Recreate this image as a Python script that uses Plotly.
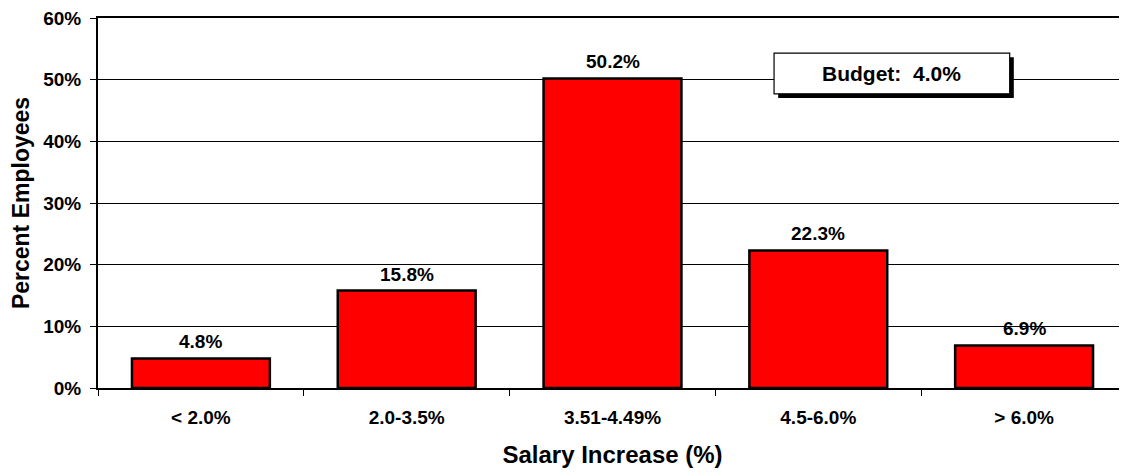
import plotly.graph_objects as go

categories = ["< 2.0%", "2.0-3.5%", "3.51-4.49%", "4.5-6.0%", "> 6.0%"]
values = [4.8, 15.8, 50.2, 22.3, 6.9]
labels = ["4.8%", "15.8%", "50.2%", "22.3%", "6.9%"]
y_ticks = [0, 10, 20, 30, 40, 50, 60]
y_ticklabels = ["0%", "10%", "20%", "30%", "40%", "50%", "60%"]
budget_text = "Budget:  4.0%"

FONT = "Liberation Sans, Arial, sans-serif"

fig = go.Figure()
fig.add_trace(go.Bar(
    x=categories, y=values,
    marker=dict(color="#FF0000", line=dict(color="black", width=2.5)),
    width=0.67,
    hoverinfo="skip",
))

for c, v, t in zip(categories, values, labels):
    fig.add_annotation(x=c, y=v, text="<b>%s</b>" % t, showarrow=False,
                       yanchor="bottom", yshift=4,
                       font=dict(family=FONT, size=19, color="black"))

# Budget box with shadow
fig.add_shape(type="rect", xref="paper", yref="paper",
              x0=0.661, x1=0.890, y0=0.784, y1=0.894,
              fillcolor="black", line=dict(width=0), layer="above")
fig.add_shape(type="rect", xref="paper", yref="paper",
              x0=0.657, x1=0.886, y0=0.795, y1=0.905,
              fillcolor="white", line=dict(color="black", width=1.2), layer="above")
fig.add_annotation(xref="paper", yref="paper", x=0.7715, y=0.85,
                   xanchor="center", yanchor="middle",
                   text="<b>%s</b>" % budget_text.replace("  ", "\u00a0 "), showarrow=False,
                   font=dict(family=FONT, size=21, color="black"))

fig.update_layout(
    width=1119, height=465,
    margin=dict(l=90, r=0, t=10, b=85, autoexpand=False),
    paper_bgcolor="white", plot_bgcolor="white",
    showlegend=False,
    font=dict(family=FONT, color="black"),
)
fig.update_xaxes(
    tickson="boundaries", ticks="outside", ticklen=6, tickwidth=1.2, tickcolor="black",
    showline=True, linecolor="black", linewidth=1.5, mirror=True,
    tickfont=dict(family=FONT, size=19, color="black"),
    tickprefix="<b>", ticksuffix="</b>",
    ticklabelstandoff=11,
    title=dict(text="<b>Salary Increase (%)</b>", font=dict(family=FONT, size=24, color="black"), standoff=20),
    showgrid=False,
    automargin=False,
)
fig.update_yaxes(
    range=[0, 60], tickvals=y_ticks, ticktext=["<b>%s</b>" % s for s in y_ticklabels],
    ticks="outside", ticklen=6, tickwidth=1.2, tickcolor="black",
    showline=True, linecolor="black", linewidth=2,
    showgrid=True, gridcolor="black", gridwidth=1.3,
    zeroline=False,
    ticklabelstandoff=5,
    ticklabeloverflow="allow",
    tickfont=dict(family=FONT, size=19, color="black"),
    title=dict(text="<b>Percent Employees</b>", font=dict(family=FONT, size=23, color="black"), standoff=15),
    automargin=False,
)

fig.write_html("out.html")
